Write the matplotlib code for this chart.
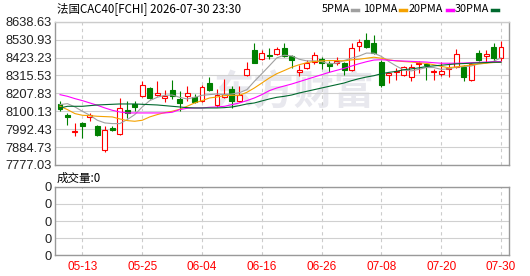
import matplotlib
matplotlib.use('Agg')
import matplotlib.pyplot as plt
from matplotlib.patches import Rectangle
from matplotlib.lines import Line2D

plt.rcParams['font.family'] = ['Noto Sans CJK SC', 'DejaVu Sans']

標題 = '法国CAC40[FCHI] 2026-07-30 23:30'
日期標籤 = ['05-13', '05-25', '06-04', '06-16', '06-26', '07-08', '07-20', '07-30']
日期位置 = [3, 11, 19, 27, 35, 43, 51, 59]
價格刻度 = [7777.03, 7884.73, 7992.43, 8100.13, 8207.83, 8315.53, 8423.23, 8530.93, 8638.63]

開盤 = [8144, 8080, 7978, 8030, 8066, 8010, 7867, 7998, 7961, 8110,
        8144, 8190, 8240, 8196, 8178, 8230, 8174, 8194, 8184, 8160,
        8270, 8136, 8184, 8236, 8160, 8320, 8469, 8413, 8441, 8445,
        8479, 8433, 8339, 8363, 8399, 8415, 8389, 8389, 8389, 8349,
        8495, 8529, 8513, 8399, 8320, 8336, 8316, 8304, 8385, 8383,
        8339, 8326, 8355, 8369, 8369, 8290, 8453, 8435, 8489, 8419]
最高 = [8164, 8090, 8030, 8034, 8090, 8016, 8010, 8010, 8180, 8160,
        8164, 8284, 8246, 8280, 8230, 8290, 8220, 8254, 8204, 8260,
        8304, 8236, 8294, 8250, 8250, 8399, 8509, 8469, 8479, 8489,
        8509, 8439, 8379, 8409, 8459, 8429, 8403, 8425, 8399, 8513,
        8533, 8573, 8559, 8409, 8339, 8363, 8373, 8383, 8403, 8393,
        8355, 8395, 8389, 8473, 8379, 8389, 8469, 8469, 8513, 8523]
最低 = [8104, 8015, 7951, 7941, 8040, 7951, 7855, 7979, 7955, 8060,
        8104, 8186, 8174, 8190, 8154, 8176, 8100, 8164, 8150, 8154,
        8220, 8124, 8180, 8120, 8156, 8310, 8389, 8409, 8413, 8439,
        8429, 8359, 8314, 8353, 8383, 8353, 8339, 8379, 8320, 8345,
        8465, 8479, 8445, 8246, 8270, 8290, 8314, 8280, 8330, 8286,
        8290, 8310, 8309, 8359, 8284, 8284, 8403, 8399, 8399, 8403]
收盤 = [8116, 8068, 7982, 8010, 8080, 7957, 7990, 7987, 8120, 8092,
        8124, 8256, 8180, 8210, 8194, 8192, 8152, 8210, 8156, 8246,
        8226, 8196, 8204, 8164, 8196, 8353, 8393, 8449, 8435, 8475,
        8433, 8409, 8349, 8393, 8439, 8393, 8373, 8405, 8349, 8479,
        8519, 8489, 8449, 8260, 8333, 8343, 8365, 8369, 8393, 8377,
        8345, 8345, 8363, 8443, 8304, 8383, 8409, 8443, 8419, 8489]

ma5 = [8140, 8146, 8126, 8100, 8076, 8046, 8030, 8026, 8026, 8050,
       8080, 8126, 8164, 8184, 8196, 8198, 8184, 8174, 8184, 8196,
       8200, 8204, 8200, 8204, 8212, 8230, 8280, 8326, 8373, 8421,
       8437, 8433, 8413, 8403, 8403, 8399, 8385, 8389, 8405, 8419,
       8432, 8450, 8449, 8430, 8399, 8372, 8348, 8343, 8352, 8363,
       8363, 8352, 8355, 8365, 8369, 8372, 8385, 8389, 8400, 8422]
ma10 = [8130, 8110, 8086, 8076, 8074, 8070, 8068, 8066, 8054, 8044,
        8040, 8046, 8066, 8080, 8092, 8100, 8112, 8130, 8150, 8164,
        8180, 8186, 8194, 8196, 8196, 8214, 8240, 8270, 8300, 8326,
        8345, 8365, 8380, 8392, 8399, 8403, 8405, 8405, 8403, 8409,
        8413, 8419, 8425, 8419, 8409, 8403, 8399, 8396, 8392, 8388,
        8380, 8370, 8362, 8367, 8373, 8378, 8385, 8389, 8393, 8395]
ma20 = [8200, 8190, 8176, 8164, 8150, 8136, 8120, 8106, 8096, 8090,
        8090, 8090, 8090, 8090, 8090, 8094, 8110, 8118, 8120, 8120,
        8124, 8126, 8130, 8140, 8150, 8164, 8180, 8200, 8224, 8240,
        8252, 8264, 8278, 8292, 8306, 8320, 8334, 8346, 8358, 8372,
        8386, 8398, 8408, 8410, 8407, 8404, 8402, 8400, 8398, 8396,
        8392, 8389, 8389, 8389, 8390, 8392, 8394, 8396, 8398, 8399]
ma30 = [8120, 8130, 8130, 8130, 8134, 8138, 8140, 8142, 8144, 8144,
        8144, 8142, 8140, 8138, 8134, 8130, 8126, 8122, 8120, 8120,
        8120, 8120, 8122, 8126, 8134, 8144, 8150, 8162, 8174, 8184,
        8190, 8198, 8210, 8220, 8230, 8240, 8250, 8260, 8270, 8284,
        8296, 8306, 8314, 8326, 8334, 8340, 8350, 8355, 8361, 8369,
        8373, 8377, 8381, 8385, 8387, 8389, 8391, 8393, 8395, 8395]

紅 = '#ff0000'
綠 = '#008000'
均線色 = {'5PMA': '#a0a0a0', '10PMA': '#f5a200', '20PMA': '#ff00ff', '30PMA': '#00692e'}

fig = plt.figure(figsize=(5.3, 2.76), dpi=100)
ax = fig.add_axes([55/530, 1-165/276, 454/530, 143.3/276])
axv = fig.add_axes([55/530, 1-255.3/276, 454/530, 68.6/276])

# K線
for i in range(len(收盤)):
    o, h, l, c = 開盤[i], 最高[i], 最低[i], 收盤[i]
    color = 紅 if c >= o else 綠
    ax.vlines(i, l, h, color=color, lw=0.8, zorder=3)
    face = 'white' if c >= o else color
    ax.add_patch(Rectangle((i-0.33, min(o, c)), 0.66, abs(c-o),
                           facecolor=face, edgecolor=color, lw=0.8, zorder=4))

x = list(range(len(收盤)))
for 名, 值 in zip(均線色, [ma5, ma10, ma20, ma30]):
    ax.plot(x, 值, color=均線色[名], lw=0.8, zorder=5)

ax.text(0.526, 0.50, '东方财富', transform=ax.transAxes, fontsize=29,
        fontweight='bold', style='italic', color='#e8e8ee',
        ha='center', va='center', zorder=0.5)

for a in (ax, axv):
    a.set_xlim(-0.67, 60.07)
    a.set_xticks(日期位置)
    a.grid(axis='x', color='#cccccc', lw=0.8, linestyle=(0, (3, 3)))
    a.grid(axis='y', color='#d0d0d0', lw=0.8)
    a.set_axisbelow(True)
    a.tick_params(length=0, pad=2)
    for s in a.spines.values():
        s.set_color('#999999')
        s.set_linewidth(1)

ax.set_ylim(價格刻度[0], 價格刻度[-1])
ax.set_yticks(價格刻度)
ax.set_yticklabels([f'{v:.2f}' for v in 價格刻度], family='Liberation Sans',
                   fontsize=9.3, color='#222222')
ax.set_xticklabels([])
ax.spines['top'].set_color('#cccccc')

axv.set_ylim(0, 4)
axv.set_yticks([0, 1, 2, 3, 4])
axv.set_yticklabels(['0'] * 5, family='Liberation Sans', fontsize=9.3, color='#222222')
axv.set_xticklabels(日期標籤, family='Liberation Sans', fontsize=8.5, color=紅)
axv.tick_params(axis='x', pad=4)

fig.text(57/530, 1-9/276, 標題, fontsize=8.3, va='center', ha='left')
fig.text(57/530, 1-178/276, '成交量:0', fontsize=8.3, va='center', ha='left')

# 圖例：文字右端緊貼色塊
圖例位置 = [(350, 352), (397, 400), (443, 447), (489, 492)]
for (tx, mx), 名 in zip(圖例位置, 均線色):
    fig.text(tx/530, 1-9.5/276, 名, fontsize=7.8, va='center', ha='right')
    fig.add_artist(Line2D([mx/530, (mx+6)/530], [1-9.7/276, 1-9.7/276],
                          color=均線色[名], lw=2.5, transform=fig.transFigure))

fig.savefig('out.png', dpi=100, facecolor='white')
